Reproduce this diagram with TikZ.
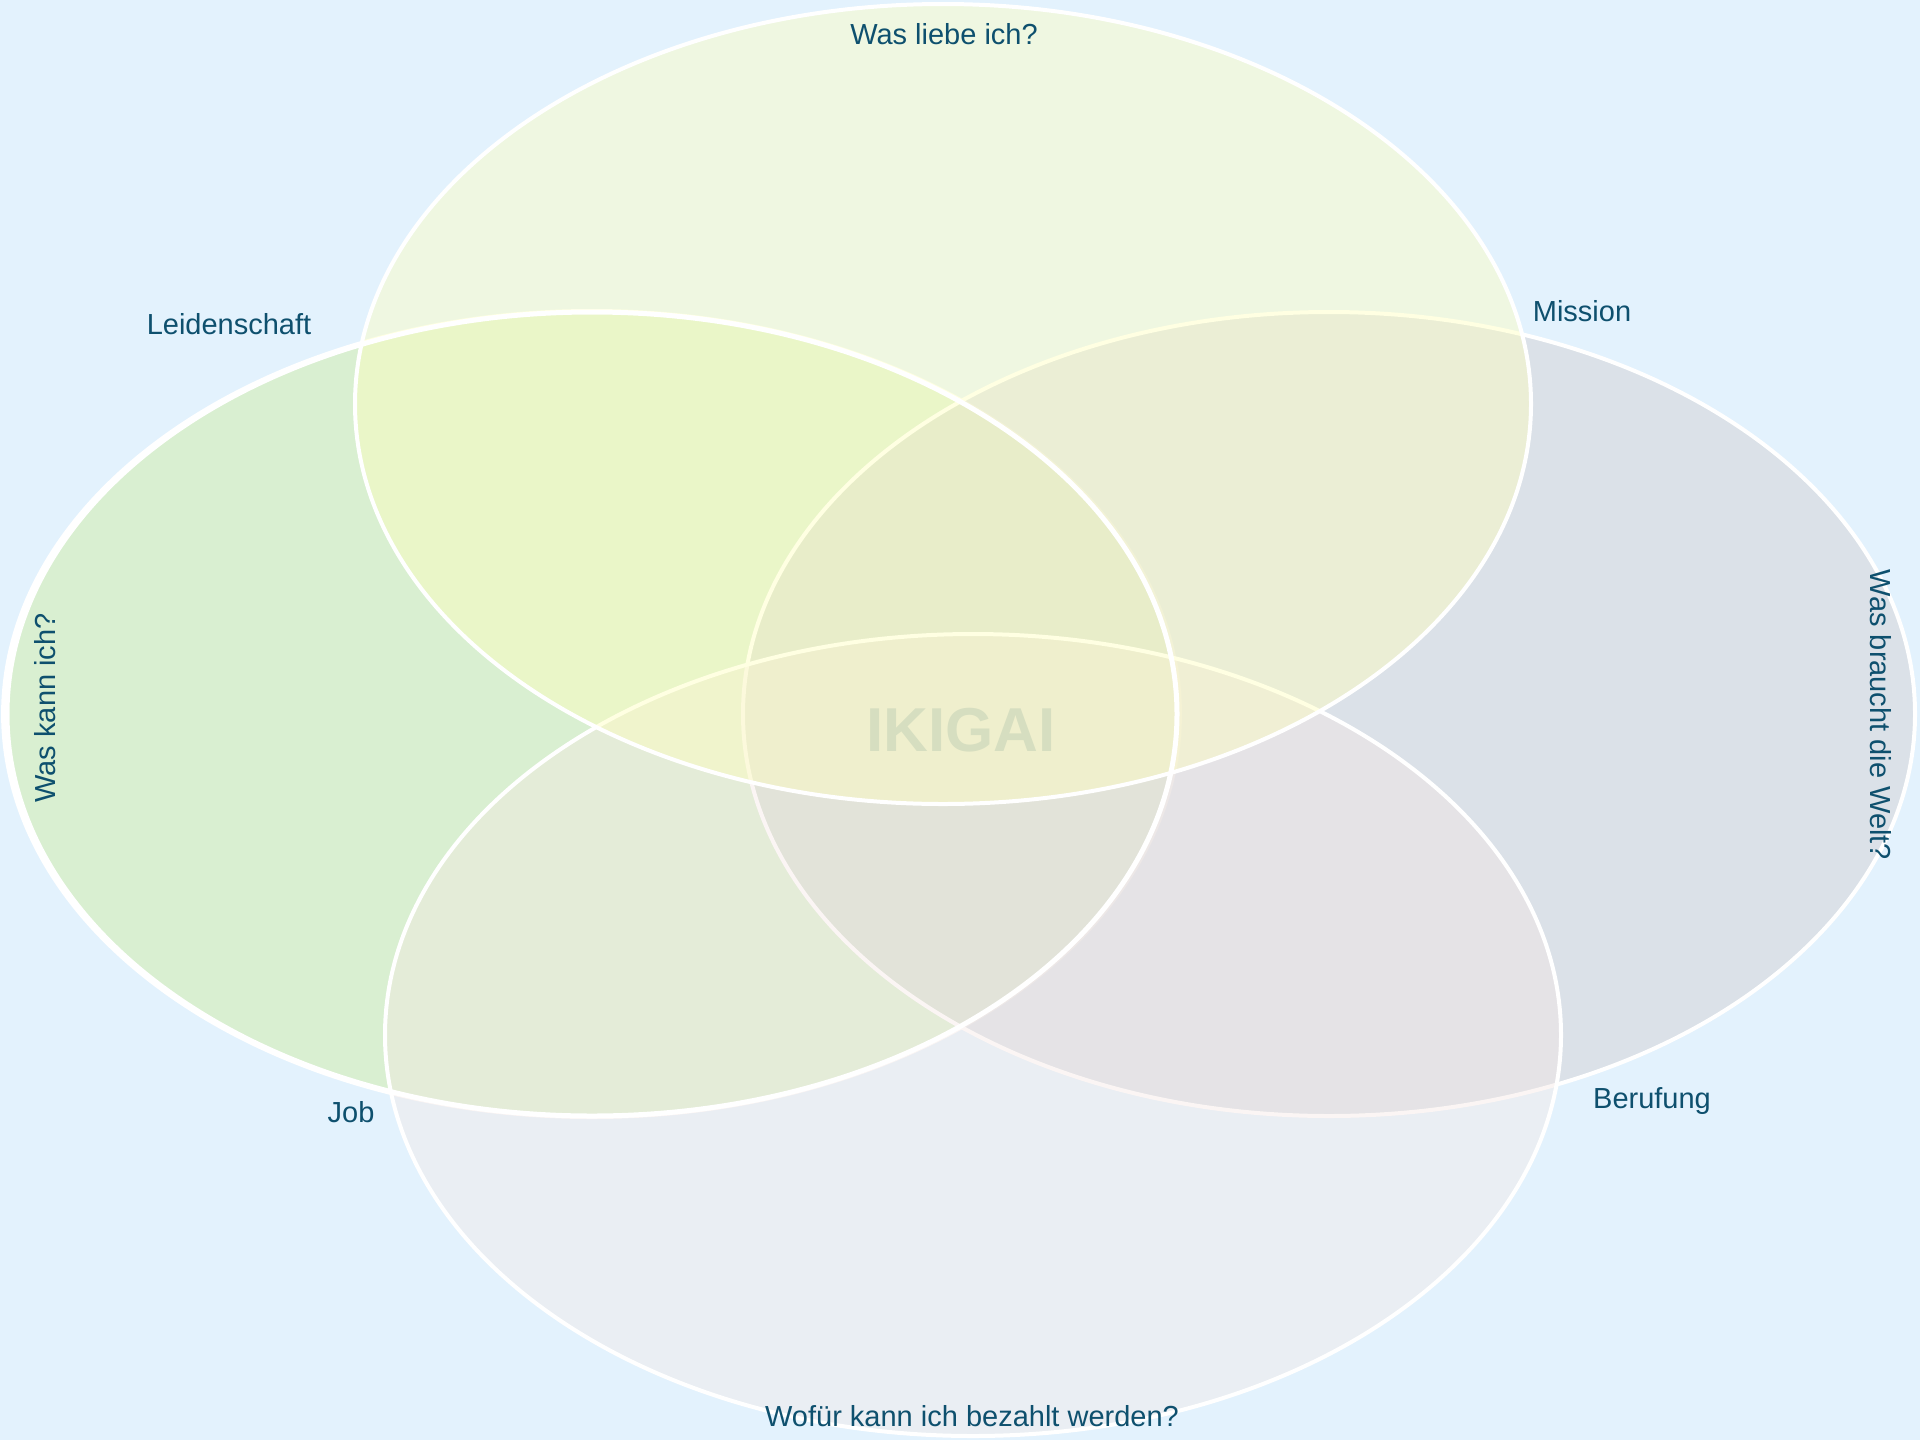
\documentclass[tikz,border=0pt]{standalone}
\usepackage{fontspec}
\setmainfont{Liberation Sans}
\definecolor{bgc}{RGB}{227,242,253}
\definecolor{cLeft}{RGB}{209,238,167}
\definecolor{cRight}{RGB}{213,210,213}
\definecolor{cBottom}{RGB}{245,232,228}
\definecolor{cTop}{RGB}{255,255,191}
\definecolor{lbl}{RGB}{14,80,110}
\definecolor{ikic}{RGB}{214,222,192}
\tikzset{
  edge/.style={draw=white, line width=2pt},
  lab/.style={text=lbl, font=\fontsize{14.5pt}{17pt}\selectfont, inner sep=0pt},
}
\begin{document}
\begin{tikzpicture}[x=0.5pt,y=-0.5pt]
\fill[bgc] (0,0) rectangle (1920,1440);
\useasboundingbox (0,0) rectangle (1920,1440);
% left (Was kann ich?) fill and its outer outline
\fill[cLeft, fill opacity=0.5] (592,714) ellipse [x radius=293pt, y radius=201pt];
\draw[edge] (591.5,714) ellipse [x radius=294.2pt, y radius=201.5pt];
% right (Was braucht die Welt?)
\path[fill=cRight, fill opacity=0.5, edge] (1329,714) ellipse [x radius=293pt, y radius=201pt];
% bottom (Wofuer kann ich bezahlt werden?)
\path[fill=cBottom, fill opacity=0.4, edge] (973,1035) ellipse [x radius=294pt, y radius=200.5pt];
% top (Was liebe ich?)
\path[fill=cTop, fill opacity=0.45, edge] (943,404) ellipse [x radius=294pt, y radius=200pt];
% left stroke on top
\draw[edge, line width=2.5pt] (592,714) ellipse [x radius=292.5pt, y radius=201pt];
% labels
\node[lab] (love) at (944,34) {Was liebe ich?};
\node[lab] (passion) at (229,324) {Leidenschaft};
\node[lab] (mission) at (1582,311) {Mission};
\node[lab, rotate=90] (cando) at (45,708) {Was kann ich?};
\node[lab, rotate=-90] (world) at (1881,715) {Was braucht die Welt?};
\node[lab] (job) at (351,1112) {Job};
\node[lab] (vocation) at (1652,1101) {Berufung};
\node[lab] (paid) at (972,1416) {Wofür kann ich bezahlt werden?};
\node[text=ikic, font=\fontsize{31pt}{36pt}\selectfont\bfseries, inner sep=0pt] (ikigai) at (961,730) {IKIGAI};
\end{tikzpicture}
\end{document}
